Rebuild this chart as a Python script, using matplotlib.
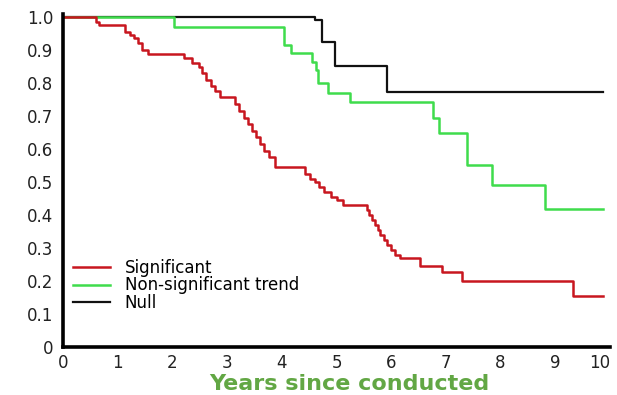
import matplotlib
matplotlib.use("Agg")
import matplotlib.pyplot as plt

# survival curves, step times (years) and surviving fraction after each step
sig_t = [0, 0.60, 0.66, 1.13, 1.22, 1.30, 1.38, 1.45, 1.55,
         2.21, 2.35, 2.48, 2.55, 2.62, 2.70, 2.78, 2.87,
         3.14, 3.22, 3.30, 3.38, 3.45, 3.53, 3.60, 3.68, 3.76, 3.88,
         4.42, 4.52, 4.60, 4.68, 4.78, 4.90, 5.00, 5.12,
         5.55, 5.60, 5.65, 5.70, 5.75, 5.80, 5.87, 5.93, 6.00, 6.07, 6.17,
         6.53, 6.92, 7.29, 9.32, 9.88]
sig_s = [1.0, 0.986, 0.976, 0.955, 0.945, 0.935, 0.92, 0.90, 0.888,
         0.875, 0.862, 0.848, 0.83, 0.81, 0.79, 0.775, 0.758,
         0.735, 0.715, 0.695, 0.675, 0.655, 0.635, 0.615, 0.595, 0.575, 0.545,
         0.525, 0.51, 0.50, 0.485, 0.47, 0.455, 0.445, 0.43,
         0.415, 0.40, 0.385, 0.37, 0.355, 0.34, 0.325, 0.31, 0.295, 0.28, 0.27,
         0.246, 0.226, 0.201, 0.155, 0.155]

trend_t = [0, 2.03, 4.04, 4.16, 4.55, 4.62, 4.66, 4.85, 5.25, 6.76, 6.88, 7.38, 7.85, 8.82, 9.88]
trend_s = [1.0, 0.97, 0.915, 0.89, 0.865, 0.84, 0.80, 0.77, 0.743, 0.694, 0.65, 0.55, 0.49, 0.418, 0.418]

null_t = [0, 4.61, 4.73, 4.97, 5.93, 9.88]
null_s = [1.0, 0.99, 0.923, 0.852, 0.772, 0.772]

labels = ["Significant", "Non-significant trend", "Null"]
yticks = [0, 0.1, 0.2, 0.3, 0.4, 0.5, 0.6, 0.7, 0.8, 0.9, 1.0]
ytick_labels = ["0", "0.1", "0.2", "0.3", "0.4", "0.5", "0.6", "0.7", "0.8", "0.9", "1.0"]

fig = plt.figure(figsize=(6.17, 3.95), dpi=100)
ax = fig.add_axes([63 / 617, 1 - 347 / 395, 547 / 617, 333.3 / 395])

# draw black first so red sits on top where the curves overlap
(l_null,) = ax.step(null_t, null_s, where="post", color="#111111", lw=1.6)
(l_trend,) = ax.step(trend_t, trend_s, where="post", color="#3fdc4c", lw=1.8)
(l_sig,) = ax.step(sig_t, sig_s, where="post", color="#c8161f", lw=1.8)

ax.set_xlim(0, 10)
ax.set_ylim(0, 1.01)
ax.set_xticks(range(0, 11))
ax.set_yticks(yticks)
ax.set_yticklabels(ytick_labels)

for side in ["top", "right"]:
    ax.spines[side].set_visible(False)
for side in ["left", "bottom"]:
    ax.spines[side].set_linewidth(2.6)
    ax.spines[side].set_color("black")

ax.tick_params(axis="both", length=0, labelsize=12, labelcolor="#222222")
ax.tick_params(axis="y", pad=7)
ax.tick_params(axis="x", pad=5)
# keep the last x label inside the figure
ax.get_xticklabels()[-1].set_horizontalalignment("right")
ax.get_xticklabels()[-1].set_x(10.05)

ax.set_xlabel("Years since conducted", fontsize=16, fontweight="bold",
              color="#62a744")
ax.xaxis.set_label_coords(0.523, -0.08, transform=ax.transAxes)
ax.xaxis.label.set_verticalalignment("top")

ax.legend([l_sig, l_trend, l_null], labels, loc="lower left",
          bbox_to_anchor=(0.018, 0.105), frameon=False, fontsize=12,
          handlelength=2.2, handletextpad=0.9, labelspacing=-0.02,
          borderpad=0, borderaxespad=0)

fig.savefig("out.png", dpi=100)
